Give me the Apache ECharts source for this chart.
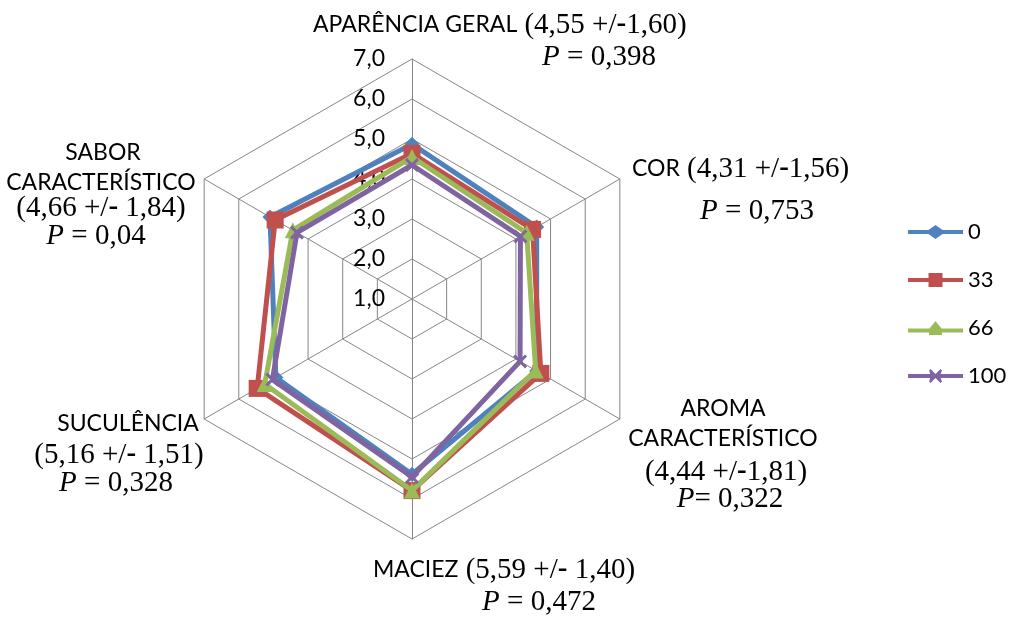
<!DOCTYPE html>
<html><head><meta charset="utf-8">
<script src="https://cdn.jsdelivr.net/npm/echarts@6/dist/echarts.min.js"></script>
<style>html,body{margin:0;padding:0;background:#fff}#c{width:1010px;height:617px}</style>
</head><body><div id="c"></div>
<script>
// Categories listed clockwise from the top, as in the original chart
const categories = ['APARÊNCIA GERAL', 'COR', 'AROMA CARACTERÍSTICO', 'MACIEZ', 'SUCULÊNCIA', 'SABOR CARACTERÍSTICO'];
const means = ['4,55', '4,31', '4,44', '5,59', '5,16', '4,66'];
const sds = ['1,60', '1,56', '1,81', '1,40', '1,51', '1,84'];
const pValues = ['0,398', '0,753', '0,322', '0,472', '0,328', '0,04'];
const seriesNames = ['0', '33', '66', '100'];
const values0 = [4.87, 4.60, 4.60, 5.38, 4.93, 5.10];
const values33 = [4.64, 4.48, 4.72, 5.79, 5.47, 4.95];
const values66 = [4.55, 4.31, 4.57, 5.79, 5.25, 4.44];
const values100 = [4.35, 4.13, 4.12, 5.45, 5.03, 4.32];
const tickLabels = ['1,0', '2,0', '3,0', '4,0', '5,0', '6,0', '7,0'];
const axisMin = 1, axisMax = 7;

// ECharts places radar indicators counter-clockwise: reorder
const order = [0, 5, 4, 3, 2, 1];
const reorder = arr => order.map(i => arr[i]);

const colors = ['#4F81BD', '#C0504D', '#9BBB59', '#8064A2'];
const xPath = 'path://M0,1.5L1.5,0L5,3.5L8.5,0L10,1.5L6.5,5L10,8.5L8.5,10L5,6.5L1.5,10L0,8.5L3.5,5Z';
const symbols = ['diamond', 'rect', 'triangle', xPath];
const symbolSizes = [15, 17, 16, 14];
// legend icons: line + marker (55 x 14 box)
const legendIcons = [
  'path://M0,5L20.5,5L27.5,0L34.5,5L55,5L55,9L34.5,9L27.5,14L20.5,9L0,9Z',
  'path://M0,5L20.5,5L20.5,0L34.5,0L34.5,5L55,5L55,9L34.5,9L34.5,14L20.5,14L20.5,9L0,9Z',
  'path://M0,7.5L21.5,7.5L27.5,0L33.5,7.5L55,7.5L55,11.5L34,11.5L34,14L21,14L21,11.5L0,11.5Z',
  'path://M0,5L22.4,5L21,1.5L22.5,0L27.5,5L32.5,0L34,1.5L32.6,5L55,5L55,9L32.6,9L34,12.5L32.5,14L27.5,9L22.5,14L21,12.5L22.4,9L0,9Z'
];
const allValues = [values0, values33, values66, values100];

const rich = {
  n: { fontFamily: 'Lato', fontSize: 23, color: '#000' },
  s: { fontFamily: 'Liberation Serif', fontSize: 29, color: '#000' },
  b: { fontFamily: 'Liberation Serif', fontSize: 29, fontWeight: 'bold', color: '#000' },
  i: { fontFamily: 'Liberation Serif', fontSize: 29, fontStyle: 'italic', color: '#000' }
};
const afterDash = ['', '', '', ' ', ' ', ' '];
const pEq = [' = ', ' = ', '= ', ' = ', ' = ', ' = '];
const numText = k => '{s|(' + means[k] + ' +/}{b|-}{s|' + afterDash[k] + sds[k] + ')}';
const pText = k => '{i|P}{s|' + pEq[k] + pValues[k] + '}';
const nameParts = k => categories[k].split(' ');

// label layout (x, y, align) per category line
const labelLines = [
  [{ t: '{n|' + categories[0] + '}{s| }' + numText(0), x: 313, y: 25, a: 'left' }, { t: pText(0), x: 599, y: 57, a: 'center' }],
  [{ t: '{n|' + categories[1] + '}{s| }' + numText(1), x: 632, y: 169, a: 'left' }, { t: pText(1), x: 757, y: 211, a: 'center' }],
  [{ t: '{n|' + nameParts(2)[0] + '}', x: 723, y: 409, a: 'center' }, { t: '{n|' + nameParts(2)[1] + '}', x: 723, y: 439, a: 'center' },
   { t: numText(2), x: 726, y: 472, a: 'center' }, { t: pText(2), x: 730, y: 499, a: 'center' }],
  [{ t: '{n|' + categories[3] + '}{s| }' + numText(3), x: 373, y: 570, a: 'left' }, { t: pText(3), x: 539, y: 602, a: 'center' }],
  [{ t: '{n|' + categories[4] + '}', x: 128, y: 424, a: 'center' }, { t: numText(4), x: 119, y: 455, a: 'center' }, { t: pText(4), x: 116, y: 483, a: 'center' }],
  [{ t: '{n|' + nameParts(5)[0] + '}', x: 103, y: 153, a: 'center' }, { t: '{n|' + nameParts(5)[1] + '}', x: 101, y: 183, a: 'center' },
   { t: numText(5), x: 101, y: 208, a: 'center' }, { t: pText(5), x: 96, y: 236, a: 'center' }]
];
const graphics = [];
labelLines.forEach(lines => lines.forEach(l => {
  graphics.push({ type: 'text', silent: true, style: { text: l.t, rich: rich, x: l.x, y: l.y, textAlign: l.a, textVerticalAlign: 'middle', verticalAlign: 'middle' } });
}));

const indicators = reorder(categories).map((name, i) => {
  const ind = { name: name, min: axisMin, max: axisMax };
  if (i !== 0) ind.axisLabel = { show: false };
  return ind;
});

const chart = echarts.init(document.getElementById('c'), null, { renderer: 'canvas' });
chart.setOption({
  animation: false,
  backgroundColor: '#fff',
  legend: {
    orient: 'vertical',
    left: 903,
    top: 214,
    itemWidth: 55,
    itemHeight: 14,
    itemGap: 22,
    textStyle: { fontFamily: 'Lato', fontSize: 22, color: '#000', lineHeight: 26 },
    data: seriesNames.map((n, i) => ({ name: n, icon: legendIcons[i], itemStyle: { color: colors[i] } }))
  },
  radar: {
    center: [412, 299],
    radius: 240,
    startAngle: 90,
    splitNumber: 6,
    shape: 'polygon',
    indicator: indicators,
    axisName: { show: false },
    axisLine: { lineStyle: { color: '#868686', width: 1 } },
    splitLine: { lineStyle: { color: '#868686', width: 1 } },
    splitArea: { show: false },
    axisTick: { show: false },
    axisLabel: {
      show: true, margin: 27, color: '#000', fontFamily: 'Lato', fontSize: 23,
      padding: [6, 0, 0, 0],
      formatter: v => tickLabels[Math.round(v - axisMin)]
    }
  },
  graphic: graphics,
  series: seriesNames.map((n, i) => ({
    type: 'radar',
    name: n,
    z: 2 + i,
    symbol: symbols[i],
    symbolSize: symbolSizes[i],
    lineStyle: { color: colors[i], width: 5 },
    itemStyle: { color: colors[i] },
    data: [{ name: n, value: reorder(allValues[i]) }]
  }))
});
</script></body></html>
